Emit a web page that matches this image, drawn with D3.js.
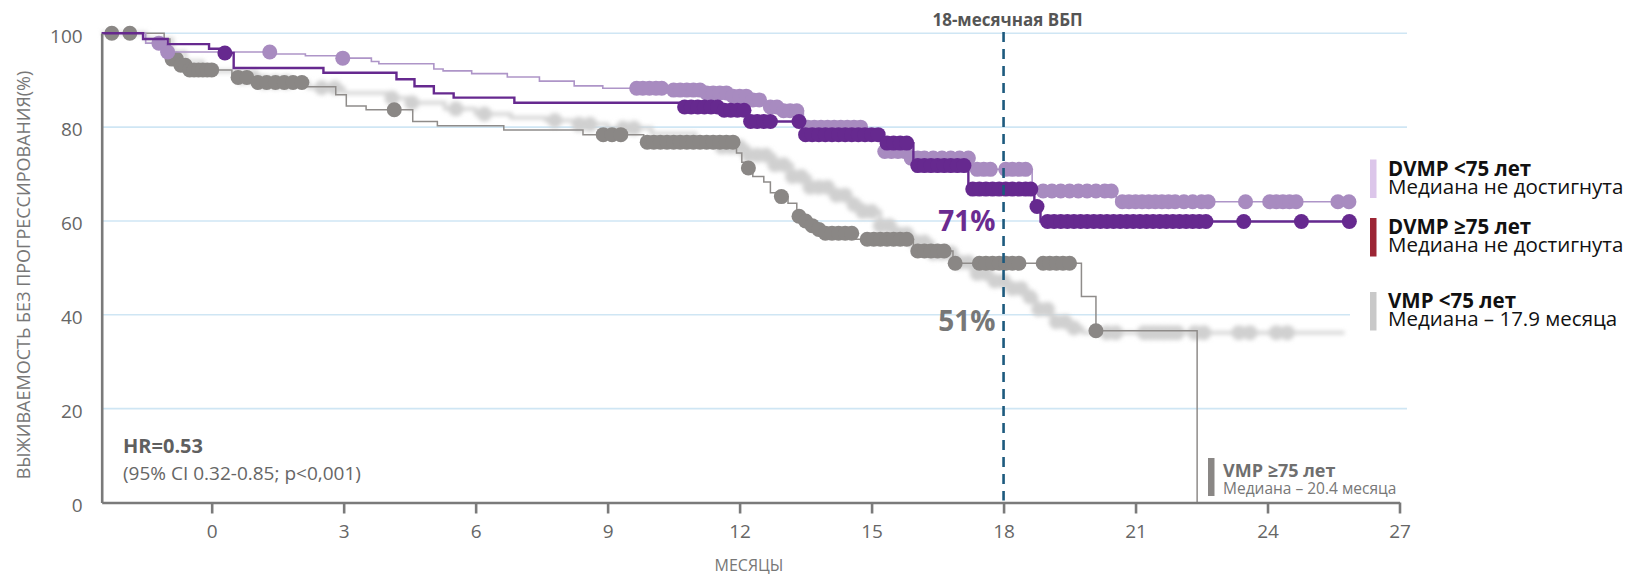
<!DOCTYPE html>
<html>
<head>
<meta charset="utf-8">
<script src="https://cdn.jsdelivr.net/npm/d3@7"></script>
<style>
  body { margin: 0; background: #fff; }
  svg { display: block; }
</style>
</head>
<body>
<svg id="chart" width="1632" height="575"></svg>
<script>
// Kaplan–Meier steps: [month, survival %] — the curve holds each value from that month on
const dvmpLt75Steps = [[-2.5,100],[-1.5,97.9],[-1.15,96.0],[1.36,95.6],[2.13,95.2],[2.95,94.7],[3.63,94.0],[3.8,93.5],[5.05,92.4],[5.26,92.0],[5.91,91.4],[6.72,90.7],[7.45,89.8],[8.24,88.8],[8.89,88.3],[10.45,87.9],[11.2,87.3],[11.8,86.6],[12.3,85.8],[12.6,84.3],[13.0,83.5],[13.45,80.0],[14.9,77.6],[15.25,74.8],[15.8,73.4],[17.3,71.0],[18.65,66.4],[20.56,64.1]];
const dvmpLt75End = 26.0;
const dvmpLt75Censor = [-1.2,-1.0,1.32,2.98,9.66,9.8,9.95,10.1,10.23,10.5,10.65,10.8,10.95,11.1,11.25,11.4,11.55,11.7,11.85,12.0,12.15,12.3,12.45,12.7,12.85,13.0,13.15,13.3,13.55,13.7,13.85,14.0,14.15,14.3,14.45,14.6,14.75,15.3,15.45,15.6,15.75,15.9,16.05,16.2,16.4,16.6,16.8,17.0,17.2,17.4,17.55,17.7,18.05,18.2,18.35,18.5,18.9,19.1,19.3,19.5,19.7,19.9,20.1,20.3,20.45,20.7,20.85,21.0,21.15,21.3,21.45,21.6,21.75,21.9,22.1,22.3,22.5,22.65,23.5,24.05,24.2,24.35,24.5,24.65,25.6,25.85];

const dvmpGe75Steps = [[-2.5,100],[-1.56,98.8],[-1.0,97.7],[-0.06,96.7],[0.2,95.8],[0.5,92.6],[2.54,91.6],[4.2,90.2],[4.61,88.7],[5.05,87.2],[5.5,86.3],[6.88,85.2],[10.7,84.3],[11.6,83.6],[12.2,81.2],[13.42,78.4],[15.25,76.6],[15.95,71.8],[17.2,66.8],[18.7,63.1],[18.84,59.9]];
const dvmpGe75End = 25.9;
const dvmpGe75Censor = [0.3,10.75,10.9,11.05,11.2,11.35,11.5,11.65,11.8,11.95,12.1,12.25,12.4,12.55,12.7,13.35,13.5,13.65,13.8,13.95,14.1,14.25,14.4,14.55,14.7,14.85,15.0,15.15,15.35,15.5,15.65,15.8,16.05,16.2,16.35,16.5,16.65,16.8,16.95,17.1,17.3,17.45,17.6,17.75,17.9,18.05,18.2,18.35,18.5,18.62,18.76,19.0,19.15,19.3,19.45,19.6,19.75,19.9,20.05,20.2,20.35,20.5,20.65,20.8,20.95,21.1,21.25,21.4,21.55,21.7,21.85,22.0,22.15,22.3,22.45,22.6,23.46,24.77,25.86];

const vmpLt75Steps = [[-2.5,100],[-1.5,98.8],[-0.9,96],[-0.6,94],[-0.2,91.9],[0.6,90.6],[1.2,89.6],[2.2,88.4],[3.0,87.3],[4.0,86.2],[4.5,85.2],[5.3,83.9],[6.0,82.8],[6.8,82.0],[7.6,81.4],[8.3,80.6],[9.0,79.8],[10.0,78.6],[11.0,77.0],[11.6,75.8],[12.2,74.0],[12.8,72.0],[13.2,69.5],[13.6,67.2],[14.1,65.5],[14.5,63.5],[14.8,62.0],[15.2,59.0],[15.5,57.2],[15.9,55.5],[16.4,53.2],[16.9,51.2],[17.3,48.8],[17.7,47.2],[18.1,45.6],[18.5,43.8],[18.75,41.2],[19.1,38.5],[19.5,37.2],[19.8,36.2]];
const vmpLt75End = 25.75;
const vmpLt75Censor = [0.7,0.95,1.2,1.45,1.7,2.5,2.8,4.1,4.55,5.55,6.2,7.8,8.35,8.6,9.35,9.6,11.6,11.8,12.0,12.2,12.4,12.6,12.8,13.0,13.2,13.4,13.6,13.8,14.0,14.2,14.4,14.6,14.8,15.0,15.2,15.4,15.6,15.8,16.0,16.2,16.4,16.6,16.8,17.0,17.2,17.4,17.6,17.8,18.0,18.2,18.4,18.6,18.8,19.0,19.2,19.4,19.6,20.35,20.55,21.2,21.35,21.5,21.65,21.8,21.95,22.35,22.55,23.35,23.6,24.2,24.45];

const vmpGe75Steps = [[-2.5,100],[-1.08,98.8],[-0.95,94.5],[-0.75,93.2],[-0.5,92.2],[0.46,90.6],[1.0,89.5],[2.17,88.6],[2.82,86.9],[3.06,84.5],[3.51,83.7],[4.57,81.2],[5.13,80.3],[6.64,79.4],[8.44,78.4],[9.82,76.8],[11.93,74.5],[12.05,72.5],[12.15,71.3],[12.3,69.5],[12.55,68.3],[12.7,66.0],[12.9,65.2],[13.1,63.8],[13.3,61.0],[13.45,60.0],[13.6,59.0],[13.75,58.2],[13.9,57.4],[14.6,56.1],[15.95,53.6],[16.85,51.0],[19.77,43.9],[20.1,36.6],[22.4,0]];
const vmpGe75End = 22.4;
const vmpGe75Censor = [-2.27,-1.86,-0.9,-0.8,-0.7,-0.6,-0.5,-0.4,-0.3,-0.2,-0.1,0.0,0.6,0.8,1.05,1.25,1.45,1.65,1.85,2.05,4.15,8.9,9.1,9.3,9.9,10.05,10.2,10.35,10.5,10.65,10.8,10.95,11.1,11.25,11.4,11.55,11.7,11.85,12.2,12.95,13.35,13.5,13.65,13.8,13.95,14.1,14.25,14.4,14.55,14.9,15.05,15.2,15.35,15.5,15.65,15.8,16.05,16.2,16.35,16.5,16.65,16.9,17.45,17.6,17.75,17.9,18.05,18.2,18.35,18.9,19.05,19.2,19.35,19.5,20.1];

// Axis ticks
const monthTicks = [0, 3, 6, 9, 12, 15, 18, 21, 24, 27];
const pctTicks = [0, 20, 40, 60, 80, 100];
const landmarkMonth = 18;
const landmarkLabels = [
  { text: "71%", value: 71, color: "#6a2b90" },
  { text: "51%", value: 51, color: "#777777" }
];

// Legend entries
const legendItems = [
  { name: "DVMP <75 лет", median: "Медиана не достигнута", color: "#dcc6ea" },
  { name: "DVMP ≥75 лет", median: "Медиана не достигнута", color: "#9c2535" },
  { name: "VMP <75 лет", median: "Медиана – 17.9 месяца", color: "#c9c9c9" }
];

const svg = d3.select("#chart");
const x = d3.scaleLinear().domain([-2.5, 27]).range([101.7, 1399.5]);
const y = d3.scaleLinear().domain([0, 100]).range([502.5, 33.3]);

const defs = svg.append("defs");
defs.append("filter").attr("id", "soft").attr("x", "-5%").attr("y", "-20%").attr("width", "110%").attr("height", "140%")
  .append("feGaussianBlur").attr("stdDeviation", 2);

// Gridlines
svg.append("g").selectAll("line")
  .data(pctTicks.filter(d => d > 0))
  .join("line")
  .attr("x1", x(-2.5)).attr("x2", d => (d === 40 || d === 60) ? 1350 : 1407)
  .attr("y1", d => y(d)).attr("y2", d => y(d))
  .attr("stroke", "#cfe6f4").attr("stroke-width", 1.6);

function valueAt(steps, t) {
  let v = steps[0][1];
  for (const s of steps) if (s[0] <= t) v = s[1];
  return v;
}
const stepLine = d3.line().x(d => x(d[0])).y(d => y(d[1])).curve(d3.curveStepAfter);

function drawSeries(steps, end, censor, opts) {
  const g = svg.append("g");
  if (opts.filter) g.attr("filter", opts.filter);
  const pts = steps.concat([[end, steps[steps.length - 1][1]]]);
  g.append("path").attr("d", stepLine(pts))
    .attr("fill", "none").attr("stroke", opts.line).attr("stroke-width", opts.width);
  g.selectAll("circle").data(censor).join("circle")
    .attr("cx", d => x(d)).attr("cy", d => y(valueAt(steps, d)))
    .attr("r", opts.r).attr("fill", opts.dot);
}

drawSeries(vmpLt75Steps, vmpLt75End, vmpLt75Censor, { line: "#d2d2d2", dot: "#d0d0d0", width: 3.5, r: 7.5, filter: "url(#soft)" });
drawSeries(vmpGe75Steps, vmpGe75End, vmpGe75Censor, { line: "#8f8c8a", dot: "#8a8785", width: 1.5, r: 7.5 });
drawSeries(dvmpLt75Steps, dvmpLt75End, dvmpLt75Censor, { line: "#ae95c8", dot: "#a88bc0", width: 1.6, r: 7.5 });
drawSeries(dvmpGe75Steps, dvmpGe75End, dvmpGe75Censor, { line: "#66298f", dot: "#66298f", width: 2.4, r: 7.5 });

// Axes
const xAxis = d3.axisBottom(x).tickValues(monthTicks).tickSize(11).tickSizeOuter(0).tickPadding(11);
const gx = svg.append("g").attr("transform", `translate(0,${y(0)})`).call(xAxis);
gx.select(".domain").attr("stroke", "#7a7a7a").attr("stroke-width", 2.6);
gx.selectAll(".tick line").attr("stroke", "#7a7a7a").attr("stroke-width", 2.6);
gx.selectAll(".tick text").attr("fill", "#666").style("font", "19px 'Open Sans', sans-serif");

const yAxis = d3.axisLeft(y).tickValues(pctTicks).tickSize(0).tickSizeOuter(0).tickPadding(19);
const gy = svg.append("g").attr("transform", `translate(${x(-2.5)},0)`).call(yAxis);
gy.select(".domain").attr("stroke", "#7a7a7a").attr("stroke-width", 2.6);
gy.selectAll(".tick text").attr("fill", "#666").attr("dy", "0.46em").style("font", "19px 'Open Sans', sans-serif");

// Axis titles
svg.append("text")
  .attr("transform", "translate(30,275) rotate(-90)")
  .attr("text-anchor", "middle").attr("fill", "#777")
  .style("font", "18px 'Open Sans', sans-serif")
  .text("ВЫЖИВАЕМОСТЬ БЕЗ ПРОГРЕССИРОВАНИЯ(%)");
svg.append("text")
  .attr("x", 749).attr("y", 571).attr("text-anchor", "middle").attr("fill", "#777")
  .style("font", "16px 'Open Sans', sans-serif")
  .text("МЕСЯЦЫ");

// 18-month landmark
svg.append("line")
  .attr("x1", x(landmarkMonth)).attr("x2", x(landmarkMonth))
  .attr("y1", 32).attr("y2", y(0) - 2)
  .attr("stroke", "#1d5a7e").attr("stroke-width", 2.6).attr("stroke-dasharray", "10,7");
svg.append("text")
  .attr("x", x(landmarkMonth) + 4).attr("y", 26).attr("text-anchor", "middle").attr("fill", "#555")
  .style("font", "bold 17px 'Open Sans', sans-serif")
  .text("18-месячная ВБП");

svg.append("text").attr("x", x(landmarkMonth) - 8).attr("y", 231)
  .attr("text-anchor", "end").attr("fill", landmarkLabels[0].color)
  .style("font", "bold 28px 'Open Sans', sans-serif").text(landmarkLabels[0].text);
svg.append("text").attr("x", x(landmarkMonth) - 8).attr("y", 331)
  .attr("text-anchor", "end").attr("fill", landmarkLabels[1].color)
  .style("font", "bold 28px 'Open Sans', sans-serif").text(landmarkLabels[1].text);

// Hazard ratio
svg.append("text").attr("x", 123).attr("y", 453).attr("fill", "#5f5f5f")
  .style("font", "bold 20px 'Open Sans', sans-serif").text("HR=0.53");
svg.append("text").attr("x", 123).attr("y", 480).attr("fill", "#666")
  .style("font", "19px 'Open Sans', sans-serif").text("(95% CI 0.32-0.85; p<0,001)");

// Legend on the right: a colour bar, then group name over its median
const legendTop = [158.5, 217, 291];
const lg = svg.append("g");
legendItems.forEach((d, i) => {
  const top = legendTop[i];
  lg.append("rect").attr("x", 1370).attr("y", top + 1).attr("width", 6.5).attr("height", 38.5).attr("fill", d.color);
  const t = lg.append("text").attr("x", 1388).attr("y", top + 17).attr("fill", "#111")
    .style("font", "20.5px 'Open Sans', sans-serif");
  t.append("tspan").attr("font-weight", "bold").text(d.name);
  t.append("tspan").attr("x", 1388).attr("dy", 18).text(d.median);
});

// VMP ≥75 label next to its median drop
svg.append("rect").attr("x", 1208).attr("y", 458).attr("width", 6.5).attr("height", 38).attr("fill", "#8a8785");
const vt = svg.append("text").attr("x", 1223).attr("y", 477).attr("fill", "#6f6f6f")
  .style("font", "15.5px 'Open Sans', sans-serif");
vt.append("tspan").attr("font-weight", "bold").attr("font-size", "18px").text("VMP ≥75 лет");
vt.append("tspan").attr("x", 1223).attr("dy", 16.5).attr("fill", "#777").text("Медиана – 20.4 месяца");
</script>
</body>
</html>
